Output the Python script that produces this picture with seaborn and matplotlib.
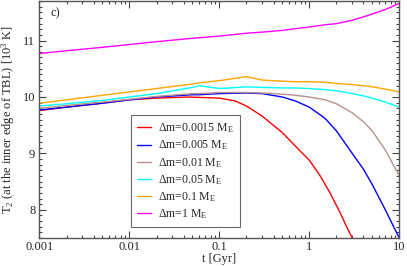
import numpy as np
import pandas as pd
import matplotlib
matplotlib.use("Agg")
import matplotlib.pyplot as plt
import matplotlib.ticker as mticker
import seaborn as sns

# time grid [Gyr] and T2 values [10^3 K]
t_grid = [0.001, 0.002, 0.005, 0.01, 0.02, 0.05, 0.06, 0.1, 0.2, 0.3, 0.5, 0.7, 1, 1.5, 2, 3, 4, 5, 7, 10]

t_red = [0.001, 0.002, 0.005, 0.01, 0.02, 0.045, 0.1, 0.15, 0.2, 0.3, 0.5, 0.7, 1, 1.3, 1.7, 2.2, 2.6, 3.0]
T_red = [9.76, 9.82, 9.89, 9.95, 9.98, 10.0, 9.98, 9.93, 9.84, 9.66, 9.37, 9.13, 8.88, 8.62, 8.30, 7.95, 7.70, 7.50]

T_blue = [9.77, 9.82, 9.89, 9.95, 10.0, 10.04, 10.04, 10.06, 10.07, 10.06, 10.0, 9.93, 9.82, 9.62, 9.40, 9.0, 8.72, 8.45, 8.0, 7.50]
T_brown = [9.80, 9.85, 9.91, 9.96, 10.01, 10.06, 10.06, 10.08, 10.08, 10.07, 10.05, 10.03, 10.0, 9.95, 9.88, 9.72, 9.56, 9.40, 9.06, 8.60]
T_cyan = [9.84, 9.88, 9.94, 10.0, 10.06, 10.17, 10.20, 10.15, 10.18, 10.17, 10.16, 10.16, 10.15, 10.13, 10.11, 10.06, 10.02, 9.98, 9.91, 9.82]
T_orange = [9.89, 9.95, 10.03, 10.09, 10.15, 10.23, 10.25, 10.29, 10.36, 10.30, 10.28, 10.27, 10.27, 10.26, 10.24, 10.22, 10.20, 10.18, 10.14, 10.09]
T_magenta = [10.77, 10.82, 10.88, 10.93, 10.98, 11.04, 11.05, 11.08, 11.13, 11.15, 11.18, 11.21, 11.24, 11.28, 11.30, 11.36, 11.42, 11.47, 11.55, 11.66]

labels = [r"$\Delta$m=0.0015 M$_\mathrm{E}$", r"$\Delta$m=0.005 M$_\mathrm{E}$",
          r"$\Delta$m=0.01 M$_\mathrm{E}$", r"$\Delta$m=0.05 M$_\mathrm{E}$",
          r"$\Delta$m=0.1 M$_\mathrm{E}$", r"$\Delta$m=1 M$_\mathrm{E}$"]
colors = ["#ff0000", "#0000ff", "#bc8f8f", "#00ffff", "#ffa500", "#ff00ff"]

series = [(t_red, T_red), (t_grid, T_blue), (t_grid, T_brown),
          (t_grid, T_cyan), (t_grid, T_orange), (t_grid, T_magenta)]
frames = []
for lab, (t, T) in zip(labels, series):
    frames.append(pd.DataFrame({"t": t, "T2": T, "run": lab}))
df = pd.concat(frames, ignore_index=True)

sns.set_style("ticks")
plt.rcParams["font.family"] = ["Liberation Serif", "DejaVu Serif"]
plt.rcParams["mathtext.fontset"] = "custom"
plt.rcParams["mathtext.rm"] = "Liberation Serif"
plt.rcParams["mathtext.it"] = "Liberation Serif:italic"

fig, ax = plt.subplots(figsize=(4.07, 2.66), dpi=100)
fig.subplots_adjust(left=0.097, right=0.981, top=0.996, bottom=0.105)

sns.lineplot(data=df, x="t", y="T2", hue="run", palette=colors, hue_order=labels,
             sort=False, estimator=None, linewidth=1.0, ax=ax)

ax.set_xscale("log")
ax.set_xlim(0.001, 10)
ax.set_ylim(7.5, 11.7)
ax.set_xticks([0.001, 0.01, 0.1, 1, 10])
ax.set_xticklabels(["0.001", "0.01", "0.1", "1", "10"])
ax.xaxis.set_minor_locator(mticker.LogLocator(base=10, subs=np.arange(2, 10)))
ax.xaxis.set_minor_formatter(mticker.NullFormatter())
ax.set_yticks([8, 9, 10, 11])
ax.yaxis.set_minor_locator(mticker.MultipleLocator(0.1))
ax.tick_params(which="both", direction="in", top=True, right=True, labelsize=9, width=0.8,
               color="#444444", pad=3)
ax.tick_params(axis="x", which="both", pad=2)
ax.tick_params(which="major", length=5)
ax.tick_params(which="minor", length=2.5)
for s in ax.spines.values():
    s.set_linewidth(1.0)
    s.set_color("#555555")

ax.set_xlabel("t [Gyr]", fontsize=9, labelpad=0)
ax.set_ylabel(r"T$_2$ (at the inner edge of TBL) [10$^3$ K]", fontsize=9, labelpad=4)
ax.text(0.03, 0.975, "c)", transform=ax.transAxes, fontsize=9, va="top", ha="left")

leg = ax.legend(loc="lower left", bbox_to_anchor=(0.253, 0.045), borderaxespad=0, fontsize=8.5,
                frameon=True, fancybox=False, edgecolor="#444444", handlelength=1.15,
                handletextpad=0.6, labelspacing=0.28, borderpad=0.55, title=None)
leg.get_frame().set_linewidth(0.8)

fig.savefig("out.png", dpi=100)
